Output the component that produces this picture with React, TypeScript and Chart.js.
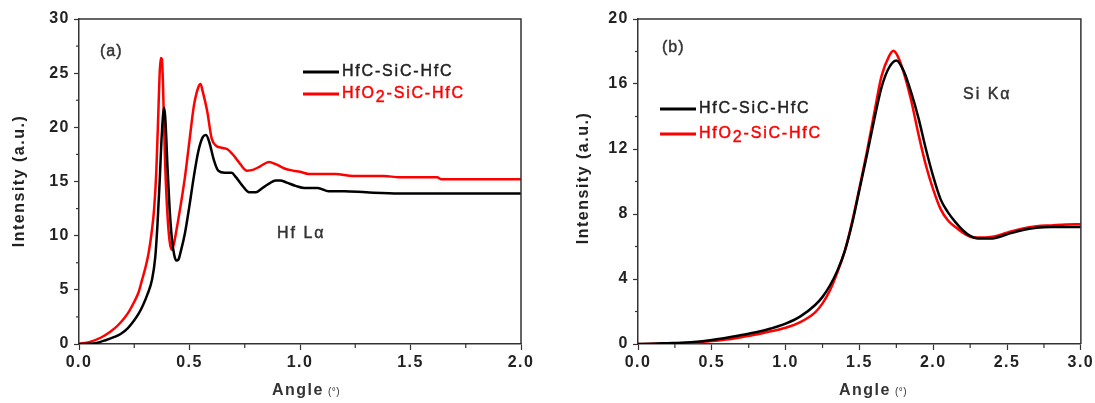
import React, { useEffect, useRef } from 'react';
import { Chart, registerables } from 'chart.js';

Chart.register(...registerables);

// ---------- Data ----------
const seriesNames = ['HfC-SiC-HfC', 'HfO2-SiC-HfC'];
const seriesColors = ['#000000', '#ff0000'];

// Panel (a): Hf Lα
const aAngleHfC = [0, 0.05, 0.08, 0.12, 0.16, 0.19, 0.22, 0.25, 0.27, 0.29, 0.31, 0.33, 0.345, 0.355, 0.365, 0.375, 0.385, 0.39, 0.395, 0.4, 0.41, 0.42, 0.43, 0.44, 0.45, 0.46, 0.48, 0.5, 0.52, 0.54, 0.56, 0.575, 0.59, 0.61, 0.63, 0.66, 0.69, 0.71, 0.74, 0.77, 0.8, 0.83, 0.86, 0.89, 0.91, 0.94, 0.98, 1.02, 1.08, 1.13, 1.2, 1.3, 1.45, 1.6, 1.8, 2.0];
const aIntensityHfC = [0, 0.02, 0.1, 0.35, 0.65, 0.95, 1.45, 2.2, 2.8, 3.6, 4.6, 5.9, 8.0, 11.0, 15.0, 19.5, 21.8, 21.0, 19.0, 16.5, 12.5, 9.8, 8.3, 7.7, 7.8, 8.5, 10.3, 12.8, 15.5, 17.8, 19.1, 19.3, 18.6, 17.0, 16.0, 15.8, 15.8, 15.4, 14.6, 14.0, 14.0, 14.4, 14.8, 15.1, 15.1, 14.9, 14.6, 14.4, 14.4, 14.1, 14.1, 14.0, 13.9, 13.9, 13.9, 13.9];
const aAngleHfO2 = [0, 0.05, 0.1, 0.14, 0.18, 0.22, 0.25, 0.27, 0.285, 0.3, 0.315, 0.33, 0.34, 0.35, 0.36, 0.365, 0.37, 0.375, 0.38, 0.385, 0.39, 0.4, 0.41, 0.42, 0.43, 0.44, 0.46, 0.48, 0.5, 0.52, 0.54, 0.55, 0.56, 0.58, 0.6, 0.62, 0.65, 0.67, 0.7, 0.73, 0.76, 0.79, 0.82, 0.86, 0.89, 0.93, 0.97, 1.0, 1.04, 1.1, 1.16, 1.24, 1.3, 1.38, 1.45, 1.62, 1.64, 1.8, 2.0];
const aIntensityHfO2 = [0, 0.2, 0.6, 1.1, 1.8, 2.8, 3.9, 4.8, 5.9, 7.0, 8.4, 10.5, 12.5, 16.0, 22.0, 25.0, 26.4, 26.3, 24.0, 20.0, 16.5, 12.0, 9.5, 8.7, 9.3, 10.4, 12.8, 15.5, 18.8, 22.0, 23.7, 24.0, 23.3, 21.5, 19.0, 18.3, 18.1, 18.0, 17.4, 16.6, 16.0, 16.1, 16.4, 16.8, 16.6, 16.2, 16.0, 15.9, 15.7, 15.7, 15.7, 15.5, 15.5, 15.5, 15.4, 15.4, 15.2, 15.2, 15.2];

// Panel (b): Si Kα
const bAngleHfC = [0, 0.1, 0.2, 0.3, 0.4, 0.5, 0.6, 0.7, 0.8, 0.9, 1.0, 1.1, 1.2, 1.25, 1.3, 1.35, 1.4, 1.45, 1.5, 1.55, 1.6, 1.65, 1.7, 1.75, 1.8, 1.85, 1.9, 1.95, 2.0, 2.05, 2.1, 2.15, 2.2, 2.25, 2.3, 2.35, 2.4, 2.5, 2.6, 2.7, 2.8, 2.9, 3.0];
const bIntensityHfC = [0, 0.02, 0.05, 0.08, 0.14, 0.25, 0.38, 0.55, 0.72, 0.95, 1.25, 1.7, 2.4, 2.9, 3.6, 4.5, 5.7, 7.4, 9.5, 11.6, 13.8, 15.8, 17.0, 17.45, 16.8, 15.5, 13.9, 12.0, 10.3, 8.9, 8.1, 7.5, 7.0, 6.65, 6.5, 6.5, 6.5, 6.75, 7.0, 7.15, 7.2, 7.2, 7.2];
const bAngleHfO2 = [0, 0.1, 0.2, 0.3, 0.4, 0.5, 0.6, 0.7, 0.8, 0.9, 1.0, 1.1, 1.2, 1.25, 1.3, 1.35, 1.4, 1.45, 1.5, 1.55, 1.6, 1.65, 1.7, 1.73, 1.76, 1.8, 1.85, 1.9, 1.95, 2.0, 2.05, 2.1, 2.15, 2.2, 2.25, 2.3, 2.35, 2.4, 2.5, 2.6, 2.7, 2.8, 2.9, 3.0];
const bIntensityHfO2 = [0, 0.01, 0.03, 0.06, 0.1, 0.18, 0.28, 0.42, 0.58, 0.78, 1.0, 1.35, 1.95, 2.5, 3.3, 4.4, 5.7, 7.5, 9.6, 11.8, 14.2, 16.5, 17.7, 18.05, 17.7, 16.7, 15.0, 12.9, 11.0, 9.5, 8.3, 7.6, 7.2, 6.85, 6.6, 6.55, 6.55, 6.6, 6.85, 7.1, 7.25, 7.3, 7.35, 7.37];

// Axis ranges / tick steps
const aXRange = [0, 2];
const aYRange = [0, 30];
const aYStep = 5;
const bXRange = [0, 3];
const bYRange = [0, 20];
const bYStep = 4;
const xStep = 0.5;

const yTitle = 'Intensity (a.u.)';
const xTitle = 'Angle';
const xUnit = '(°)';

// ---------- helpers ----------
const FONT = '"Liberation Sans", Arial, sans-serif';
const AXIS_COLOR = '#333333';
const TEXT_COLOR = '#222222';

function toPoints(xs: number[], ys: number[]) {
  return xs.map((x, i) => ({ x, y: ys[i] }));
}

function setSpacing(ctx: any, s: string) {
  ctx.letterSpacing = s;
}

// fill + thin stroke to imitate a medium weight
function medText(ctx: CanvasRenderingContext2D, t: string, x: number, y: number) {
  ctx.fillText(t, x, y);
  ctx.strokeStyle = ctx.fillStyle as string;
  ctx.lineWidth = 0.45;
  ctx.strokeText(t, x, y);
}

function drawLabelWithSub(ctx: CanvasRenderingContext2D, label: string, x: number, y: number) {
  let cx = x;
  const parts = label.split(/(\d)/).filter((p) => p.length > 0);
  for (const p of parts) {
    const isSub = /^\d$/.test(p);
    medText(ctx, p, cx, isSub ? y + 4 : y);
    cx += ctx.measureText(p).width;
  }
}

type PanelSpec = {
  key: string;
  tag: string;
  tagPos: [number, number];
  peak: string;
  peakPos: [number, number];
  legendX: number;
  legendY: [number, number];
  yTitleX: number;
  yTitleY: number;
  xTitleX: number;
};

function makePanelPlugin(spec: PanelSpec) {
  return {
    id: 'panel_' + spec.key,
    beforeDraw(chart: any) {
      const ctx = chart.ctx;
      ctx.save();
      ctx.fillStyle = '#ffffff';
      ctx.fillRect(0, 0, chart.width, chart.height);
      ctx.restore();
      setSpacing(ctx, '1.5px');
    },
    afterDraw(chart: any) {
      const ctx: CanvasRenderingContext2D = chart.ctx;
      const { left, right, top, bottom } = chart.chartArea;
      ctx.save();
      // top/right frame
      ctx.strokeStyle = AXIS_COLOR;
      ctx.lineWidth = 1.5;
      ctx.beginPath();
      ctx.moveTo(left - 0.75, top);
      ctx.lineTo(right, top);
      ctx.lineTo(right, bottom);
      ctx.stroke();
      // minor ticks
      ctx.lineWidth = 1.2;
      const xs = chart.scales.x;
      const xt = xs.ticks;
      for (let i = 0; i < xt.length - 1; i++) {
        const p = xs.getPixelForValue((xt[i].value + xt[i + 1].value) / 2);
        ctx.beginPath();
        ctx.moveTo(p, bottom);
        ctx.lineTo(p, bottom + 4);
        ctx.stroke();
      }
      const ys = chart.scales.y;
      const yt = ys.ticks;
      for (let i = 0; i < yt.length - 1; i++) {
        const p = ys.getPixelForValue((yt[i].value + yt[i + 1].value) / 2);
        ctx.beginPath();
        ctx.moveTo(left, p);
        ctx.lineTo(left - 3, p);
        ctx.stroke();
      }

      // panel tag
      ctx.fillStyle = '#333333';
      ctx.textBaseline = 'middle';
      ctx.textAlign = 'left';
      ctx.font = `16px ${FONT}`;
      setSpacing(ctx, '1px');
      medText(ctx, spec.tag, spec.tagPos[0], spec.tagPos[1]);

      // peak label
      ctx.fillStyle = '#333333';
      ctx.font = `16px ${FONT}`;
      setSpacing(ctx, '2px');
      medText(ctx, spec.peak, spec.peakPos[0], spec.peakPos[1]);

      // legend
      const ds = chart.data.datasets;
      for (let i = 0; i < ds.length; i++) {
        const ly = spec.legendY[i];
        ctx.strokeStyle = seriesColors[i];
        ctx.lineWidth = 3;
        ctx.beginPath();
        ctx.moveTo(spec.legendX, ly);
        ctx.lineTo(spec.legendX + 36, ly);
        ctx.stroke();
        ctx.fillStyle = i === 0 ? TEXT_COLOR : seriesColors[i];
        ctx.font = `16px ${FONT}`;
        setSpacing(ctx, '1.8px');
        drawLabelWithSub(ctx, ds[i].label, spec.legendX + 39, ly);
      }

      // y title
      ctx.save();
      ctx.translate(spec.yTitleX, spec.yTitleY);
      ctx.rotate(-Math.PI / 2);
      ctx.textAlign = 'center';
      ctx.textBaseline = 'middle';
      ctx.fillStyle = TEXT_COLOR;
      ctx.font = `bold 16px ${FONT}`;
      setSpacing(ctx, '1.5px');
      ctx.fillText(yTitle, 0, 0);
      ctx.restore();

      // x title
      ctx.textAlign = 'left';
      ctx.textBaseline = 'alphabetic';
      ctx.fillStyle = '#333333';
      ctx.font = `bold 16px ${FONT}`;
      setSpacing(ctx, '1.5px');
      ctx.fillText(xTitle, spec.xTitleX, 395);
      const w = ctx.measureText(xTitle).width;
      ctx.font = `10px ${FONT}`;
      setSpacing(ctx, '0.5px');
      ctx.fillText(xUnit, spec.xTitleX + w + 4, 395);
      ctx.restore();
    },
  };
}

function makeConfig(
  sets: { x: number[]; y: number[] }[],
  xRange: number[],
  yRange: number[],
  yStep: number,
  yAxisWidth: number,
  padRight: number,
  spec: PanelSpec
): any {
  const tickFont = { family: FONT, size: 16, weight: 'bold' as const };
  return {
    type: 'line',
    data: {
      datasets: sets.map((s, i) => ({
        label: seriesNames[i],
        data: toPoints(s.x, s.y),
        borderColor: seriesColors[i],
        backgroundColor: seriesColors[i],
        borderWidth: 2.5,
        pointRadius: 0,
        fill: false,
        cubicInterpolationMode: 'monotone',
      })),
    },
    options: {
      responsive: false,
      animation: false,
      devicePixelRatio: 1,
      layout: { padding: { top: 19, right: padRight, left: 0, bottom: 0 } },
      plugins: { legend: { display: false }, tooltip: { enabled: false } },
      scales: {
        x: {
          type: 'linear',
          min: xRange[0],
          max: xRange[1],
          afterFit: (s: any) => {
            s.height = 59;
          },
          border: { color: AXIS_COLOR, width: 1.5 },
          grid: { drawOnChartArea: false, drawTicks: true, tickLength: 6, tickColor: AXIS_COLOR, tickWidth: 1.2 },
          ticks: {
            stepSize: xStep,
            autoSkip: false,
            maxRotation: 0,
            padding: 3,
            color: TEXT_COLOR,
            font: tickFont,
            callback: (v: any) => Number(v).toFixed(1),
          },
        },
        y: {
          type: 'linear',
          min: yRange[0],
          max: yRange[1],
          afterFit: (s: any) => {
            s.width = yAxisWidth;
          },
          border: { color: AXIS_COLOR, width: 1.5 },
          grid: { drawOnChartArea: false, drawTicks: true, tickLength: 5, tickColor: AXIS_COLOR, tickWidth: 1.2 },
          ticks: {
            stepSize: yStep,
            autoSkip: false,
            padding: 4,
            color: TEXT_COLOR,
            font: tickFont,
            callback: (v: any) => String(Math.round(Number(v))),
          },
        },
      },
    },
    plugins: [makePanelPlugin(spec)],
  };
}

const specA: PanelSpec = {
  key: 'a',
  tag: '(a)',
  tagPos: [100, 52],
  peak: 'Hf Lα',
  peakPos: [277, 234],
  legendX: 303,
  legendY: [72, 94],
  yTitleX: 20,
  yTitleY: 181,
  xTitleX: 272,
};

const specB: PanelSpec = {
  key: 'b',
  tag: '(b)',
  tagPos: [117, 48],
  peak: 'Si Kα',
  peakPos: [418, 95],
  legendX: 115,
  legendY: [109, 134],
  yTitleX: 39,
  yTitleY: 178,
  xTitleX: 294,
};

export default function App() {
  const refA = useRef<HTMLCanvasElement | null>(null);
  const refB = useRef<HTMLCanvasElement | null>(null);

  useEffect(() => {
    document.body.style.margin = '0';
    const charts: Chart[] = [];
    if (refA.current) {
      charts.push(
        new Chart(
          refA.current,
          makeConfig(
            [
              { x: aAngleHfC, y: aIntensityHfC },
              { x: aAngleHfO2, y: aIntensityHfO2 },
            ],
            aXRange,
            aYRange,
            aYStep,
            79,
            24,
            specA
          )
        )
      );
    }
    if (refB.current) {
      charts.push(
        new Chart(
          refB.current,
          makeConfig(
            [
              { x: bAngleHfC, y: bIntensityHfC },
              { x: bAngleHfO2, y: bIntensityHfO2 },
            ],
            bXRange,
            bYRange,
            bYStep,
            93,
            14,
            specB
          )
        )
      );
    }
    return () => charts.forEach((c) => c.destroy());
  }, []);

  return (
    <div style={{ position: 'relative', width: 1095, height: 403, background: '#fff' }}>
      <canvas ref={refA} width={545} height={403} style={{ position: 'absolute', left: 0, top: 0 }} />
      <canvas ref={refB} width={550} height={403} style={{ position: 'absolute', left: 545, top: 0 }} />
    </div>
  );
}
